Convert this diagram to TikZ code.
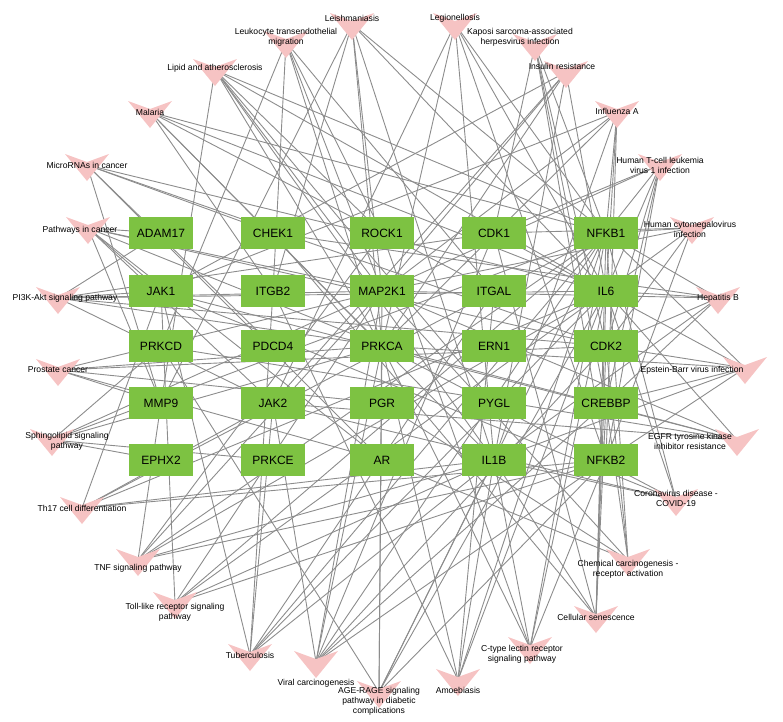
\documentclass[tikz,border=0pt]{standalone}
\usepackage{fontspec}
\setmainfont{Liberation Sans}
\usetikzlibrary{backgrounds}
\definecolor{gbox}{HTML}{7DC242}
\definecolor{pk}{HTML}{F6C3C3}
\definecolor{edge}{HTML}{8C8C8C}
\begin{document}
\begin{tikzpicture}[x=1pt,y=-1pt,
  gene/.style={fill=gbox,minimum width=64pt,minimum height=32pt,inner sep=0pt,font=\fontsize{12}{13}\selectfont},
  plab/.style={font=\fontsize{8.6}{10}\selectfont,align=center,inner sep=0pt},
  lnk/.style={draw=edge,line width=0.9pt}]
\useasboundingbox (0,0) rectangle (783,721);
% genes
\foreach \n/\t [count=\i] in {
 161/ADAM17,273/CHEK1,382/ROCK1,494/CDK1,606/NFKB1}{\node[gene] (g\i) at (\n,233) {\t};}
\foreach \n/\t [count=\i from 6] in {
 161/JAK1,273/ITGB2,382/MAP2K1,494/ITGAL,606/IL6}{\node[gene] (g\i) at (\n,291) {\t};}
\foreach \n/\t [count=\i from 11] in {
 161/PRKCD,273/PDCD4,382/PRKCA,494/ERN1,606/CDK2}{\node[gene] (g\i) at (\n,346) {\t};}
\foreach \n/\t [count=\i from 16] in {
 161/MMP9,273/JAK2,382/PGR,494/PYGL,606/CREBBP}{\node[gene] (g\i) at (\n,403) {\t};}
\foreach \n/\t [count=\i from 21] in {
 161/EPHX2,273/PRKCE,382/AR,494/IL1B,606/NFKB2}{\node[gene] (g\i) at (\n,460) {\t};}
% pathway positions
\foreach \x/\y [count=\i] in {352/24,455/24,535/45,566/72,617/112,660/165,692/228,718/298,745/368,737/440,676/500,628/560,596/617,530/648,458/680,379/692,316/662,250/655,175/603,138/560,82/508,52/440,58/370,58/298,88/228,87/165,150/112,215/70,286/42}
 {\coordinate (p\i) at (\x,\y);}
% edges
\begin{scope}[on background layer]
\foreach \p/\gs in {
 1/{5,10,13,24,8,16,7},2/{10,24,5,25,13,17},3/{5,25,20,15,4},4/{6,17,10,8,13,24},
 5/{5,10,24,8,13,25,6},6/{5,25,20,15,4,8,10},7/{5,25,10,8,15,4},8/{5,10,15,20,24,8,2},
 9/{5,25,20,15,4,13,24},10/{6,8,13,17,10,11},11/{5,10,24,6,17,13},12/{23,18,20,15,8,5},
 13/{15,4,2,10,24,5,20},14/{5,25,10,24,13,3},15/{7,9,10,24,13,5},16/{5,25,10,24,13,11,8},
 17/{5,25,20,15,4,8,13,17},18/{5,10,24,17,6,7,9},19/{5,25,10,24,8,6},20/{5,25,10,24,16,8,3},
 21/{5,25,10,17,6,24},22/{8,13,11,22,21,5},23/{23,18,16,8,13,15},24/{6,17,8,13,10,15,4,1},
 25/{8,13,6,17,16,15,23,1},26/{16,12,2,15,10,23},27/{5,10,24,7,9,13},28/{5,10,24,13,8,16,3,19},
 29/{7,9,3,13,11,8}}
 {\foreach \g in \gs {\draw[lnk] (p\p) -- (g\g.center);}}
\end{scope}
% chevrons
\foreach \i in {1,...,29}{\fill[pk] (p\i) ++(-22,-11) -- ++(22,8) -- ++(22,-8) -- ++(-22,27) -- cycle;}
% labels
\foreach \x/\y/\t [count=\i] in {
 352/18/Leishmaniasis,455/18/Legionellosis,520/37/{Kaposi sarcoma-associated\\herpesvirus infection},
 562/66/Insulin resistance,617/111/Influenza A,660/165/{Human T-cell leukemia\\virus 1 infection},
 690/229/{Human cytomegalovirus\\infection},718/298/Hepatitis B,692/370/Epstein-Barr virus infection,
 690/441/{EGFR tyrosine kinase\\inhibitor resistance},676/498/{Coronavirus disease -\\COVID-19},
 628/569/{Chemical carcinogenesis -\\receptor activation},596/617/Cellular senescence,
 522/654/{C-type lectin receptor\\signaling pathway},458/690/Amoebiasis,
 379/701/{AGE-RAGE signaling\\pathway in diabetic\\complications},316/683/Viral carcinogenesis,
 250/655/Tuberculosis,175/612/{Toll-like receptor signaling\\pathway},138/568/TNF signaling pathway,
 82/508/Th17 cell differentiation,67/441/{Sphingolipid signaling\\pathway},58/370/Prostate cancer,
 65/298/PI3K-Akt signaling pathway,80/230/Pathways in cancer,87/165/MicroRNAs in cancer,
 150/112/Malaria,215/68/Lipid and atherosclerosis,286/37/{Leukocyte transendothelial\\migration}}
 {\node[plab] (l\i) at (\x,\y) {\t};}
\end{tikzpicture}
\end{document}
